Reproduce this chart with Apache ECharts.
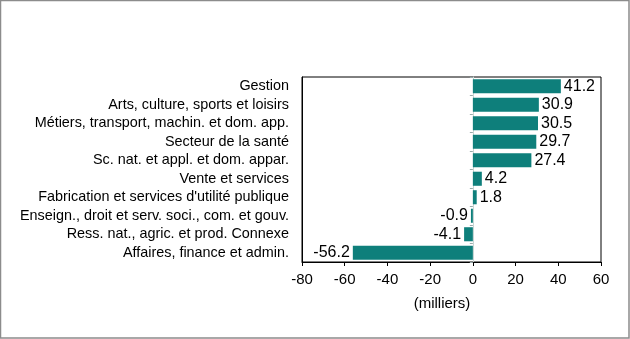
<!DOCTYPE html>
<html>
<head>
<meta charset="utf-8">
<script src="https://cdn.jsdelivr.net/npm/echarts@6/dist/echarts.min.js"></script>
<style>
  html, body { margin: 0; padding: 0; background: #fff; }
  #chart { width: 630px; height: 339px; }
</style>
</head>
<body>
<div id="chart"></div>
<script>
// Employment change by occupation group, in thousands
const categories = [
  "Gestion",
  "Arts, culture, sports et loisirs",
  "Métiers, transport, machin. et dom. app.",
  "Secteur de la santé",
  "Sc. nat. et appl. et dom. appar.",
  "Vente et services",
  "Fabrication et services d'utilité publique",
  "Enseign., droit et serv. soci., com. et gouv.",
  "Ress. nat., agric. et prod. Connexe",
  "Affaires, finance et admin."
];
const values = [41.2, 30.9, 30.5, 29.7, 27.4, 4.2, 1.8, -0.9, -4.1, -56.2];
const axisMin = -80, axisMax = 60, axisStep = 20;
const axisTitle = "(milliers)";

const font = "Liberation Sans, Arial, sans-serif";
const barColor = "#0e7f7b";

const chart = echarts.init(document.getElementById('chart'), null, { renderer: 'canvas' });
chart.setOption({
  animation: false,
  backgroundColor: '#fff',
  textStyle: { fontFamily: font },
  grid: {
    left: 302, right: 29, top: 77, bottom: 77,
    show: true, borderColor: '#000', borderWidth: 1, backgroundColor: 'transparent'
  },
  graphic: [{
    type: 'rect',
    shape: { x: 0.5, y: 0.5, width: 628.5, height: 337.5 },
    style: { fill: 'none', stroke: '#8c8c8c', lineWidth: 1.5 },
    silent: true
  }],
  xAxis: {
    type: 'value',
    min: axisMin, max: axisMax, interval: axisStep,
    axisLine: { show: true, onZero: false, lineStyle: { color: '#000', width: 1 } },
    axisTick: { show: true, length: 4, lineStyle: { color: '#000' } },
    splitLine: { show: false },
    axisLabel: { color: '#000', fontSize: 15, fontFamily: font, margin: 10 },
    name: axisTitle,
    nameLocation: 'middle',
    nameGap: 34,
    nameTextStyle: { color: '#000', fontSize: 15, fontFamily: font, padding: [0, 19, 0, 0] }
  },
  yAxis: [{
    type: 'category',
    data: categories,
    inverse: true,
    position: 'left',
    axisLine: { show: true, onZero: false, lineStyle: { color: '#000' } },
    axisTick: { show: false },
    axisLabel: { color: '#000', fontSize: 14.4, fontFamily: font, margin: 13 }
  }, {
    // category axis crossing the value axis at zero
    type: 'category',
    data: categories,
    inverse: true,
    position: 'left',
    axisLine: { show: true, onZero: true, lineStyle: { color: '#c8d6d4', width: 1 } },
    axisTick: { show: true, length: 3, lineStyle: { color: '#9aa' } },
    axisLabel: { show: false }
  }],
  series: [{
    type: 'bar',
    yAxisIndex: 0,
    barCategoryGap: '24%',
    itemStyle: { color: barColor },
    label: {
      show: true,
      position: 'right',
      distance: 3,
      color: '#000',
      fontSize: 16,
      fontFamily: font,
      formatter: p => p.value.toFixed(1)
    },
    // negative bars carry their label on the left side
    data: values.map(v => v < 0
      ? { value: v, label: { position: 'left' } }
      : v)
  }]
});
</script>
</body>
</html>
